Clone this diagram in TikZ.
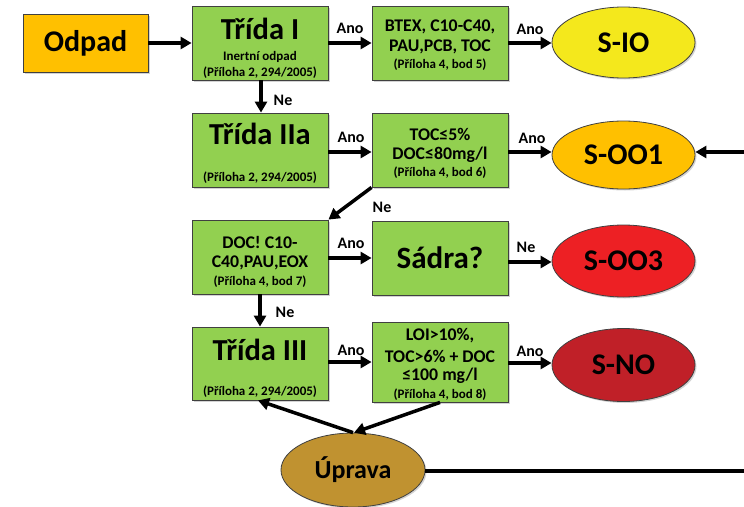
\documentclass[tikz,border=0pt]{standalone}
\usepackage{fontspec}
\setmainfont{Carlito}
\usetikzlibrary{shapes.geometric,arrows.meta,shadows}
\definecolor{grn}{RGB}{146,208,80}
\definecolor{orng}{RGB}{255,192,0}
\definecolor{yel}{RGB}{244,232,28}
\definecolor{redc}{RGB}{237,32,36}
\definecolor{dred}{RGB}{192,32,40}
\definecolor{ochre}{RGB}{192,146,48}
\definecolor{bordc}{RGB}{64,64,64}
\begin{document}
\begin{tikzpicture}[x=1pt,y=-1pt,font=\bfseries,
  box/.style={draw=bordc,line width=0.8pt,fill=grn,minimum width=136pt,minimum height=74pt,inner sep=0pt,
    drop shadow={shadow xshift=1.5pt,shadow yshift=-1.5pt,opacity=0.35}},
  oval/.style={ellipse,draw=bordc,line width=0.8pt,minimum width=143pt,minimum height=71pt,inner sep=0pt,
    font=\fontsize{30}{30}\bfseries,drop shadow={shadow xshift=1.5pt,shadow yshift=-1.5pt,opacity=0.35}},
  arr/.style={line width=3.5pt,-{Triangle[length=11pt,width=12pt]}},
  lbl/.style={font=\fontsize{16}{16}\bfseries,inner sep=0pt},
  big/.style={font=\fontsize{30.5}{30.5}\bfseries,inner sep=0pt},
  mid/.style={font=\fontsize{17.8}{17.8}\bfseries,inner sep=0pt},
  sm/.style={font=\fontsize{13}{13}\bfseries,inner sep=0pt}]
\useasboundingbox (0,0) rectangle (744,506);

% row 1
\node[box,fill=orng,minimum width=125pt,minimum height=58pt,font=\fontsize{30}{30}\bfseries] (odpad) at (85.5,43) {Odpad};
\node[box] (t1) at (260,43) {};
\node[big] (t1a) at (260,29) {Třída I};
\node[sm] (t1b) at (260,57) {Inertní odpad};
\node[sm] (t1c) at (260,73) {(Příloha 2, 294/2005)};
\node[box] (b2) at (440,43) {};
\node[mid] (b2a) at (440,27) {BTEX, C10-C40,};
\node[mid] (b2b) at (440,47) {PAU,PCB, TOC};
\node[sm] (b2c) at (440,65) {(Příloha 4, bod 5)};
\node[oval,fill=yel] (sio) at (623.5,42.5) {S-IO};

% row 2
\node[box] (t2) at (260,150) {};
\node[big] (t2a) at (260,134) {Třída IIa};
\node[sm] (t2c) at (260,178) {(Příloha 2, 294/2005)};
\node[box] (b3) at (440,150) {};
\node[mid] (b3a) at (440,134) {TOC≤5\%};
\node[mid] (b3b) at (440,155) {DOC≤80mg/l};
\node[sm] (b3c) at (440,173) {(Příloha 4, bod 6)};
\node[oval,fill=orng,minimum height=68pt] (soo1) at (623.5,155) {S-OO1};

% row 3
\node[box] (t3) at (260,257) {};
\node[mid] (t3a) at (260,242) {DOC! C10-};
\node[mid] (t3b) at (260,263) {C40,PAU,EOX};
\node[sm] (t3c) at (260,282) {(Příloha 4, bod 7)};
\node[box,font=\fontsize{31}{31}\bfseries] (sad) at (440,258) {Sádra?};
\node[oval,fill=redc,minimum height=72pt] (soo3) at (623.5,261) {S-OO3};

% row 4
\node[box,minimum height=73pt] (t4) at (260,363.5) {};
\node[big] (t4a) at (260,350) {Třída III};
\node[sm] (t4c) at (260,392) {(Příloha 2, 294/2005)};
\node[box,minimum height=80pt] (b4) at (440,362) {};
\node[mid] (b4a) at (440,336) {LOI>10\%,};
\node[mid] (b4b) at (440,356) {TOC>6\% + DOC};
\node[mid] (b4c) at (440,376) {≤100 mg/l};
\node[sm] (b4d) at (440,395) {(Příloha 4, bod 8)};
\node[oval,fill=dred,minimum height=73pt] (sno) at (623.5,365) {S-NO};

\node[oval,fill=ochre,minimum width=144pt,minimum height=74pt,font=\fontsize{26}{26}\bfseries] (upr) at (353,470) {Úprava};

\coordinate (rin) at (744,152);
\coordinate (rout) at (744,471);

% connectors
\draw[arr] (odpad.east |- 0,43) -- (t1.west |- 0,43);
\draw[arr] (t1.east |- 0,43) -- (b2.west |- 0,43);
\node[lbl] (l1) at (350,28) {Ano};
\draw[arr] (b2.east |- 0,43) -- (sio.west |- 0,43);
\node[lbl] (l2) at (530,29) {Ano};
\draw[arr] (t1.south -| 261,0) -- (t2.north -| 261,0);
\node[lbl] (l3) at (283,100) {Ne};

\draw[arr] (t2.east |- 0,152) -- (b3.west |- 0,152);
\node[lbl] (l4) at (351,137) {Ano};
\draw[arr] (b3.east |- 0,152) -- (soo1.west |- 0,152);
\node[lbl] (l5) at (532,138) {Ano};
\draw[arr] (rin) -- (soo1.east |- 0,152);
\draw[arr] (b3.south west) -- (t3.north east);
\node[lbl] (l6) at (382,207) {Ne};

\draw[arr] (t3.east |- 0,258) -- (sad.west |- 0,258);
\node[lbl] (l7) at (351,243) {Ano};
\draw[arr] (sad.east |- 0,262) -- (soo3.west |- 0,262);
\node[lbl] (l8) at (526,247) {Ne};
\draw[arr] (t3.south -| 260,0) -- (t4.north -| 260,0);
\node[lbl] (l9) at (285,312) {Ne};

\draw[arr] (t4.east |- 0,362) -- (b4.west |- 0,362);
\node[lbl] (l10) at (351,350) {Ano};
\draw[arr] (b4.east |- 0,363) -- (sno.west |- 0,363);
\node[lbl] (l11) at (530,351) {Ano};

\draw[arr] (upr.north) -- ([xshift=-2pt]t4.south);
\draw[arr] (b4.south -| 440,0) -- ([xshift=1pt]upr.north);
\draw[line width=3.5pt] (upr.east |- 0,471) -- (rout);
\end{tikzpicture}
\end{document}
